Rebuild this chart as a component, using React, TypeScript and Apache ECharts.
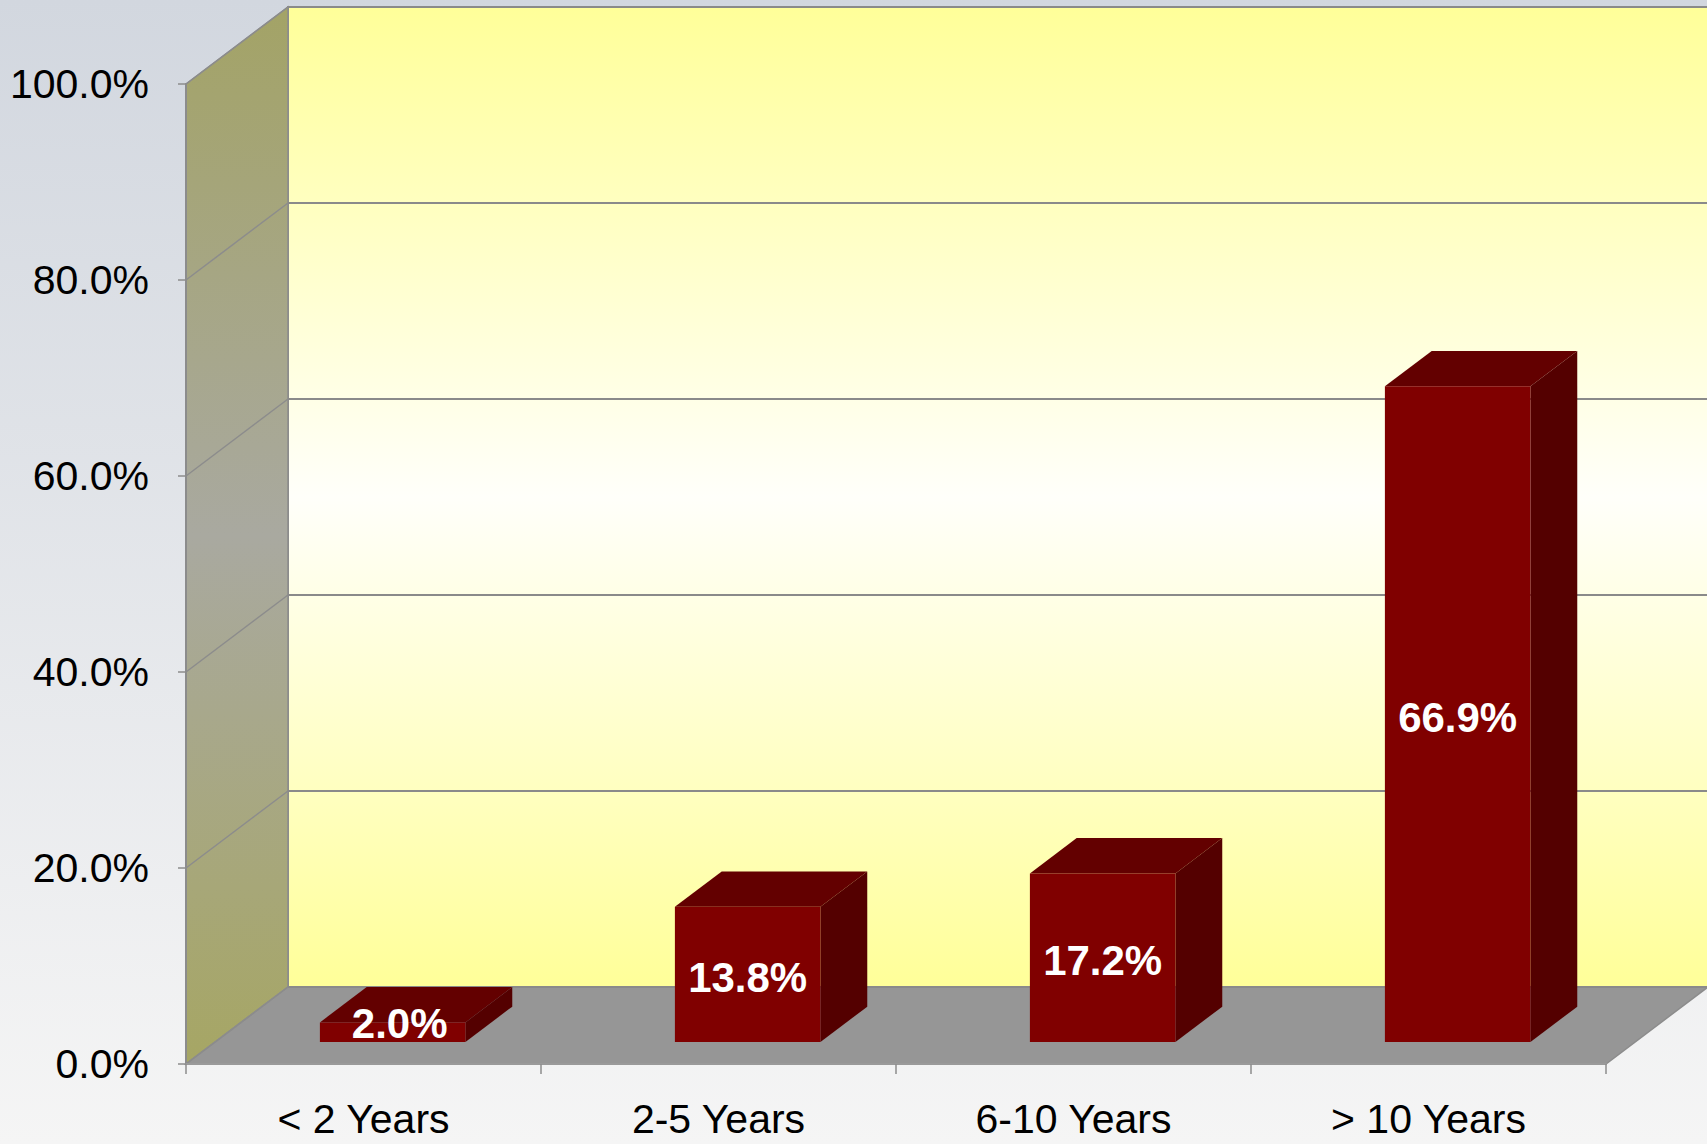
import React, { useEffect, useRef } from "react";
import * as echarts from "echarts";

const categories = ["< 2 Years", "2-5 Years", "6-10 Years", "> 10 Years"];
const shares = [2.0, 13.8, 17.2, 66.9];
const yTicks = [0, 20, 40, 60, 80, 100];

const DEPTH_X = 102;
const DEPTH_Y = -77;
const BAR_FRONT = 0.286;
const BAR_BACK = 0.745;
const BAR_WIDTH = 0.41;

export default function App() {
  const ref = useRef<HTMLDivElement>(null);
  useEffect(() => {
    if (!ref.current) return;
    const chart = echarts.init(ref.current, undefined, { renderer: "svg" });
    const font = "Liberation Sans, Arial, sans-serif";

    const wallsRender = (params: any, api: any) => {
      const cs = params.coordSys;
      const x0 = cs.x;
      const x1 = cs.x + cs.width;
      const yTop = cs.y;
      const yBot = cs.y + cs.height;
      const children: any[] = [];
      children.push({
        type: "rect",
        shape: { x: x0 + DEPTH_X, y: yTop + DEPTH_Y, width: cs.width + 10, height: cs.height },
        style: {
          fill: {
            type: "linear", x: 0, y: 0, x2: 0, y2: 1,
            colorStops: [
              { offset: 0, color: "#ffff99" },
              { offset: 0.5, color: "#fffffa" },
              { offset: 1, color: "#ffff99" },
            ],
          },
          stroke: "#8c8c8c",
          lineWidth: 2,
        },
      });
      children.push({
        type: "polygon",
        shape: {
          points: [
            [x0, yTop],
            [x0 + DEPTH_X, yTop + DEPTH_Y],
            [x0 + DEPTH_X, yBot + DEPTH_Y],
            [x0, yBot],
          ],
        },
        style: {
          fill: {
            type: "linear", x: 0, y: 0, x2: 0, y2: 1,
            colorStops: [
              { offset: 0, color: "#a3a366" },
              { offset: 0.5, color: "#a9a9a0" },
              { offset: 1, color: "#a6a664" },
            ],
          },
          stroke: "#8c8c8c",
          lineWidth: 1.5,
        },
      });
      children.push({
        type: "polygon",
        shape: {
          points: [
            [x0, yBot],
            [x1, yBot],
            [x1 + DEPTH_X, yBot + DEPTH_Y],
            [x0 + DEPTH_X, yBot + DEPTH_Y],
          ],
        },
        style: { fill: "#969696", stroke: "#8c8c8c", lineWidth: 1.5 },
      });
      yTicks.forEach((t) => {
        const y = api.coord([0, t])[1];
        children.push({
          type: "line",
          shape: { x1: x0 + DEPTH_X, y1: y + DEPTH_Y, x2: x1 + DEPTH_X + 10, y2: y + DEPTH_Y },
          style: { stroke: "#8a8a8a", lineWidth: 2 },
        });
        children.push({
          type: "line",
          shape: { x1: x0, y1: y, x2: x0 + DEPTH_X, y2: y + DEPTH_Y },
          style: { stroke: "#8c8c8c", lineWidth: 1.5 },
        });
      });
      return { type: "group", children };
    };

    const barsRender = (params: any, api: any) => {
      const idx = api.value(0);
      const val = api.value(1);
      const base = api.coord([idx, 0]);
      const top = api.coord([idx, val]);
      const w = api.size([1, 0])[0] * BAR_WIDTH;
      const ox = DEPTH_X * BAR_FRONT;
      const oy = DEPTH_Y * BAR_FRONT;
      const dx = DEPTH_X * (BAR_BACK - BAR_FRONT);
      const dy = DEPTH_Y * (BAR_BACK - BAR_FRONT);
      const fl = top[0] - w / 2 + ox;
      const fr = fl + w;
      const ft = top[1] + oy;
      const fb = base[1] + oy;
      const short = fb - ft < 40;
      const labelX = (fl + fr) / 2 + (short ? dx * 0.15 : 0);
      const labelY = (ft + fb) / 2 + (short ? dy * 0.25 : 3);
      return {
        type: "group",
        children: [
          {
            type: "polygon",
            shape: { points: [[fl, ft], [fr, ft], [fr + dx, ft + dy], [fl + dx, ft + dy]] },
            style: { fill: "#630000" },
          },
          {
            type: "polygon",
            shape: { points: [[fr, ft], [fr + dx, ft + dy], [fr + dx, fb + dy], [fr, fb]] },
            style: { fill: "#540000" },
          },
          {
            type: "rect",
            shape: { x: fl, y: ft, width: w, height: fb - ft },
            style: { fill: "#800000" },
          },
          {
            type: "text",
            x: labelX,
            y: labelY,
            style: {
              text: val.toFixed(1) + "%",
              fill: "#ffffff",
              font: "bold 42px " + font,
              align: "center",
              verticalAlign: "middle",
            },
          },
        ],
      };
    };

    chart.setOption({
      animation: false,
      backgroundColor: {
        type: "linear", x: 0, y: 0, x2: 0, y2: 1,
        colorStops: [
          { offset: 0, color: "#d2d7df" },
          { offset: 1, color: "#f5f5f5" },
        ],
      },
      grid: { left: 186, right: 101, top: 84, bottom: 80 },
      xAxis: {
        type: "category",
        data: categories,
        z: 10,
        axisLine: { show: true, lineStyle: { color: "#9a9a9a", width: 2 } },
        axisTick: { show: true, length: 10, lineStyle: { color: "#8c8c8c", width: 1.5 } },
        axisLabel: {
          color: "#000",
          fontSize: 41,
          fontFamily: font,
          margin: 38,
          lineHeight: 34,
        },
        splitLine: { show: false },
      },
      yAxis: {
        type: "value",
        min: 0,
        max: 100,
        interval: 20,
        z: 10,
        axisLine: { show: true, lineStyle: { color: "#8c8c8c", width: 2 } },
        axisTick: { show: true, length: 8, lineStyle: { color: "#8c8c8c", width: 1.5 } },
        axisLabel: {
          color: "#000",
          fontSize: 41,
          fontFamily: font,
          margin: 37,
          formatter: (v: number) => v.toFixed(1) + "%",
        },
        splitLine: { show: false },
      },
      series: [
        {
          type: "custom",
          z: 1,
          clip: false,
          silent: true,
          renderItem: wallsRender,
          data: [[0, 0]],
        },
        {
          type: "custom",
          z: 3,
          clip: false,
          renderItem: barsRender,
          data: shares.map((v, i) => [i, v]),
        },
      ],
    });
    return () => chart.dispose();
  }, []);
  return (
    <div
      ref={ref}
      style={{ position: "fixed", left: 0, top: 0, width: 1707, height: 1144 }}
    />
  );
}
